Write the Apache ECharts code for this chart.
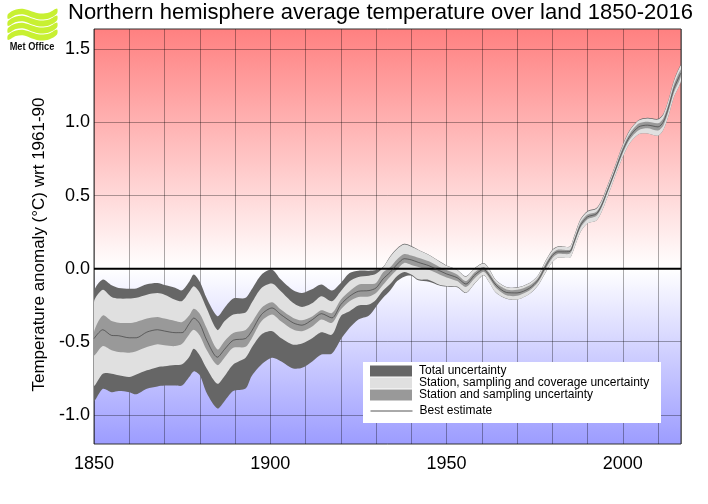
<!DOCTYPE html>
<html>
<head>
<meta charset="utf-8">
<title>Northern hemisphere average temperature over land 1850-2016</title>
<script src="https://cdn.jsdelivr.net/npm/echarts@6/dist/echarts.min.js"></script>
<style>
  html, body { margin: 0; padding: 0; background: #fff; }
  #main { width: 708px; height: 504px; }
</style>
</head>
<body>
<div id="main"></div>
<script>
var years = [1850,1852.5,1855,1857,1860,1862,1865,1868,1870,1873,1875,1877,1878.3,1880,1882,1885,1887,1889.5,1893,1894.7,
  1897.5,1900.5,1903,1906.5,1909,1912,1914.5,1917.5,1920,1922.5,1925,1928,1930,1932,1934,1936,1938,1940,1942,1945,
  1948,1950,1953,1955.5,1958,1960.5,1962,1964,1967,1970,1973.5,1976,1978,1980,1981.5,1983,1985,1986,1988,1990,
  1992.5,1994,1995.5,1997.5,2000,2002,2004.5,2007,2010,2011.5,2013,2014.5,2016.5];

var total_hi = [-.16,-.075,-.114,-.132,-.137,-.135,-.107,-.098,-.112,-.13,-.148,-.09,-.04,-.09,-.205,-.325,-.269,-.205,-.2,-.143,
  -.041,-.007,-.075,-.148,-.166,-.139,-.109,-.15,-.098,-.03,-.014,-.014,-.01,.012,.085,.14,.17,.155,.13,.095,
  .05,.022,-.007,-.052,.004,.038,.002,-.078,-.126,-.128,-.098,-.043,.05,.13,.152,.152,.152,.21,.34,.395,
  .415,.47,.56,.685,.85,.95,1.018,1.032,1.025,1.06,1.16,1.29,1.395];
var coverage_hi = [-.228,-.144,-.194,-.205,-.205,-.2,-.178,-.167,-.178,-.212,-.221,-.16,-.121,-.165,-.275,-.42,-.36,-.314,-.30,-.235,
  -.132,-.102,-.155,-.235,-.262,-.235,-.189,-.223,-.155,-.087,-.057,-.048,-.035,.008,.08,.135,.165,.15,.128,.093,
  .048,.02,-.009,-.055,.002,.036,0,-.08,-.128,-.13,-.10,-.045,.048,.125,.148,.15,.15,.205,.335,.39,
  .41,.465,.555,.68,.845,.945,1.013,1.027,1.02,1.055,1.155,1.285,1.39];
var station_hi = [-.434,-.32,-.358,-.37,-.372,-.365,-.342,-.331,-.342,-.358,-.365,-.32,-.274,-.308,-.41,-.553,-.496,-.44,-.42,-.371,
  -.269,-.23,-.28,-.337,-.353,-.326,-.285,-.303,-.212,-.155,-.11,-.105,-.098,-.025,.01,.065,.10,.09,.075,.05,
  .012,-.01,-.04,-.085,-.025,.012,-.025,-.095,-.142,-.145,-.115,-.06,.03,.105,.13,.13,.13,.185,.315,.37,
  .39,.45,.54,.665,.83,.925,.993,1.005,.995,1.03,1.13,1.26,1.365];
var best_estimate = [-.479,-.418,-.457,-.459,-.473,-.473,-.434,-.418,-.427,-.438,-.438,-.377,-.338,-.377,-.491,-.606,-.553,-.49,-.478,-.428,
  -.314,-.269,-.314,-.371,-.387,-.348,-.308,-.337,-.246,-.189,-.155,-.15,-.132,-.07,-.025,.03,.068,.06,.043,.02,
  -.014,-.036,-.062,-.105,-.043,-.005,-.043,-.112,-.163,-.166,-.134,-.077,.012,.09,.115,.115,.118,.172,.297,.354,
  .375,.434,.525,.65,.81,.906,.97,.982,.97,1.005,1.107,1.233,1.34];
var station_lo = [-.594,-.53,-.559,-.571,-.575,-.565,-.537,-.518,-.525,-.53,-.514,-.45,-.418,-.457,-.559,-.66,-.61,-.542,-.535,-.48,
  -.36,-.314,-.36,-.417,-.428,-.394,-.348,-.371,-.28,-.223,-.194,-.19,-.166,-.11,-.055,-.005,.039,.025,.012,-.008,
  -.04,-.06,-.085,-.125,-.065,-.022,-.06,-.13,-.182,-.186,-.15,-.092,-.005,.072,.1,.10,.103,.155,.28,.338,
  .36,.418,.51,.635,.79,.885,.947,.96,.945,.98,1.08,1.205,1.315];
var coverage_lo = [-.799,-.719,-.719,-.73,-.742,-.725,-.696,-.674,-.668,-.66,-.655,-.605,-.548,-.594,-.685,-.788,-.736,-.656,-.61,-.542,
  -.451,-.428,-.474,-.52,-.513,-.474,-.435,-.451,-.325,-.292,-.253,-.246,-.212,-.15,-.105,-.05,-.023,-.04,-.073,-.077,
  -.11,-.118,-.123,-.164,-.10,-.043,-.089,-.164,-.205,-.212,-.173,-.112,-.03,.045,.075,.075,.075,.125,.25,.31,
  .33,.39,.48,.61,.765,.86,.92,.925,.91,.95,1.05,1.175,1.285];
var total_lo = [-.902,-.822,-.845,-.838,-.845,-.86,-.822,-.806,-.80,-.80,-.80,-.742,-.703,-.73,-.853,-.957,-.907,-.838,-.82,-.736,
  -.656,-.61,-.633,-.683,-.679,-.633,-.588,-.58,-.485,-.405,-.348,-.32,-.26,-.20,-.15,-.085,-.055,-.048,-.08,-.089,
  -.115,-.123,-.127,-.167,-.102,-.045,-.09,-.165,-.206,-.213,-.174,-.113,-.031,.045,.075,.075,.075,.125,.25,.31,
  .33,.39,.48,.61,.765,.86,.92,.925,.91,.95,1.05,1.175,1.285];

var y_ticks = [-1, -0.5, 0, 0.5, 1, 1.5];
var zero_x = [1850, 2016.5];
var title_text = 'Northern hemisphere average temperature over land 1850-2016';
var y_title = 'Temperature anomaly (\u00b0C) wrt 1961-90';
var font = '"Liberation Sans", Arial, sans-serif';

function band(name, hi, lo, color) {
  return {
    name: name,
    type: 'custom',
    clip: true,
    silent: true,
    itemStyle: { color: color },
    encode: { x: 0, y: [1, 2] },
    data: years.map(function(el, idx) { return [el, hi[idx], lo[idx]]; }),
    renderItem: function(params, api) {
      if (params.dataIndex > 0) return null;
      var top = years.map(function(el, idx) { return api.coord([el, hi[idx]]); });
      var bottom = years.map(function(el, idx) { return api.coord([el, lo[idx]]); }).reverse();
      return {
        type: 'polygon',
        shape: { points: top.concat(bottom), smooth: 0.28 },
        style: { fill: color }
      };
    }
  };
}

// logo ribbon
function wave(dy) {
  return {
    type: 'polygon',
    x: 8,
    y: 8 + dy,
    z: 5,
    shape: {
      points: [[0,6],[8,1.5],[16,1],[24,3.5],[32,5.5],[41,4.5],[49,0.5],[49,5.5],[41,10.5],[32,11.5],[24,9.5],[16,6.5],[8,7],[0,11]],
      smooth: 0.3
    },
    style: { fill: '#c8f032' }
  };
}

var chart = echarts.init(document.getElementById('main'));
var option = {
  animation: false,
  backgroundColor: '#fff',
  textStyle: { fontFamily: font },
  title: {
    text: title_text,
    left: 68,
    top: 2,
    padding: 0,
    textStyle: { fontFamily: font, fontSize: 22, fontWeight: 'normal', color: '#000' }
  },
  grid: {
    show: true,
    left: 94,
    right: 27,
    top: 29,
    bottom: 60,
    borderColor: '#333',
    borderWidth: 1,
    backgroundColor: {
      type: 'linear', x: 0, y: 0, x2: 0, y2: 1,
      colorStops: [
        { offset: 0, color: '#ff8080' },
        { offset: 0.578, color: '#ffffff' },
        { offset: 1, color: '#9c9cff' }
      ]
    }
  },
  xAxis: {
    type: 'value',
    min: 1850,
    max: 2016.5,
    interval: 10,
    axisLine: { show: false },
    axisTick: { show: false },
    splitLine: { show: true, lineStyle: { color: 'rgba(0,0,0,0.33)', width: 1 } },
    axisLabel: {
      color: '#000',
      fontSize: 18,
      fontFamily: font,
      margin: 11,
      showMaxLabel: false,
      formatter: function(v) { return v % 50 === 0 ? String(v) : ''; }
    }
  },
  yAxis: {
    type: 'value',
    min: -1.2,
    max: 1.64,
    name: y_title,
    nameLocation: 'middle',
    nameGap: 46,
    nameTextStyle: { color: '#000', fontSize: 17, fontFamily: font, padding: [0, 16, 0, 0] },
    axisLine: { show: false },
    axisTick: { show: false, customValues: y_ticks },
    splitLine: { show: true, lineStyle: { color: 'rgba(0,0,0,0.33)', width: 1 } },
    axisLabel: {
      customValues: y_ticks,
      color: '#000',
      fontSize: 18,
      fontFamily: font,
      margin: 4,
      padding: [2, 0, 0, 0],
      formatter: function(v) { return v.toFixed(1); }
    }
  },
  legend: [
    {
      left: 370,
      top: 365,
      orient: 'vertical',
      padding: 0,
      itemGap: 0,
      itemWidth: 42,
      itemHeight: 11,
      selectedMode: false,
      icon: 'rect',
      textStyle: { fontSize: 12, lineHeight: 9, color: '#000', fontFamily: font, padding: [2, 0, 0, 2] },
      data: ['Total uncertainty', 'Station, sampling and coverage uncertainty', 'Station and sampling uncertainty']
    },
    {
      left: 370,
      top: 405,
      padding: 0,
      itemWidth: 42,
      itemHeight: 11,
      selectedMode: false,
      itemStyle: { opacity: 0 },
      lineStyle: { color: '#555', width: 1 },
      textStyle: { fontSize: 12, lineHeight: 11, color: '#000', fontFamily: font, padding: [0, 0, 0, 2] },
      data: ['Best estimate']
    }
  ],
  graphic: [
    { type: 'rect', shape: { x: 363, y: 362, width: 298, height: 61 }, style: { fill: '#fff' }, z: 3 },
    wave(0), wave(7), wave(14), wave(21),
    {
      type: 'text', x: 32, y: 47.5, z: 5, scaleX: 0.88,
      style: { text: 'Met Office', fill: '#111', font: 'bold 10.5px ' + font, align: 'center', verticalAlign: 'middle' }
    }
  ],
  series: [
    {
      name: 'Zero',
      type: 'line',
      symbol: 'none',
      silent: true,
      lineStyle: { color: '#000', width: 2 },
      data: zero_x.map(function(el) { return [el, 0]; })
    },
    band('Total uncertainty', total_hi, total_lo, '#666666'),
    band('Station, sampling and coverage uncertainty', coverage_hi, coverage_lo, '#e0e0e0'),
    band('Station and sampling uncertainty', station_hi, station_lo, '#999999'),
    {
      name: 'Best estimate',
      type: 'line',
      symbol: 'none',
      smooth: 0.28,
      silent: true,
      itemStyle: { color: '#333' },
      lineStyle: { color: '#333', width: 0.6 },
      data: years.map(function(el, idx) { return [el, best_estimate[idx]]; })
    }
  ]
};
chart.setOption(option);
</script>
</body>
</html>
